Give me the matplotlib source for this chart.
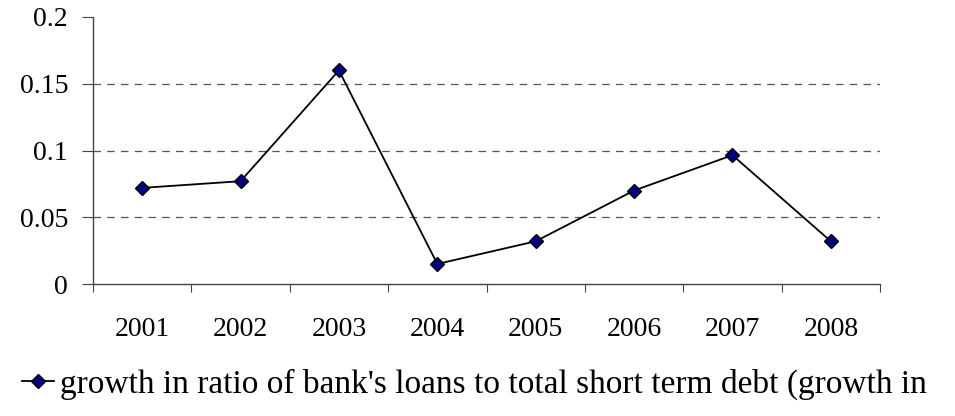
import numpy as np
import matplotlib.pyplot as plt

years = ['2001', '2002', '2003', '2004', '2005', '2006', '2007', '2008']
growth = [0.072, 0.077, 0.160, 0.015, 0.032, 0.070, 0.0965, 0.032]
y_ticks = [0, 0.05, 0.1, 0.15, 0.2]
y_labels = ['0', '0.05', '0.1', '0.15', '0.2']
# only the visible part of the legend text
label = "growth in ratio of bank's loans to total short term debt (growth in"

plt.rcParams['font.family'] = ['Liberation Serif', 'DejaVu Serif']

fig = plt.figure(figsize=(9.55, 4.16), dpi=100)
ax = fig.add_axes([93 / 955, 1 - 284 / 416, (880 - 93) / 955, (284 - 17) / 416])

x = np.arange(len(years)) + 0.5
ax.plot(x, growth, color='black', lw=1.3, marker='D', ms=7,
        mfc='#000080', mec='black', mew=1.0, label=label)

ax.set_xlim(0, len(years))
ax.set_ylim(0, 0.2)
ax.set_yticks(y_ticks)
ax.set_yticklabels(y_labels, fontsize=20)
for v in y_ticks[1:-1]:
    ax.axhline(v, color='#555555', lw=0.9, ls=(0, (6, 5)), zorder=0)

ax.set_xticks(np.arange(len(years) + 1))
ax.set_xticklabels([])
ax.set_xticks(x, minor=True)
ax.set_xticklabels(years, minor=True, fontsize=20)
ax.tick_params(axis='x', which='major', direction='out', length=6, color='#444444')
ax.tick_params(axis='x', which='minor', length=0, pad=24)
ax.tick_params(axis='y', direction='out', length=8, color='#444444', pad=10)

for s in ['top', 'right']:
    ax.spines[s].set_visible(False)
for s in ['left', 'bottom']:
    ax.spines[s].set_color('#444444')
    ax.spines[s].set_linewidth(1.0)

fig.legend(loc='center left', bbox_to_anchor=(22 / 955, 1 - 384 / 416),
           frameon=False, fontsize=24, handlelength=0.95, handletextpad=0.2,
           borderaxespad=0, borderpad=0)

fig.savefig('out.png', dpi=100)
plt.close(fig)
